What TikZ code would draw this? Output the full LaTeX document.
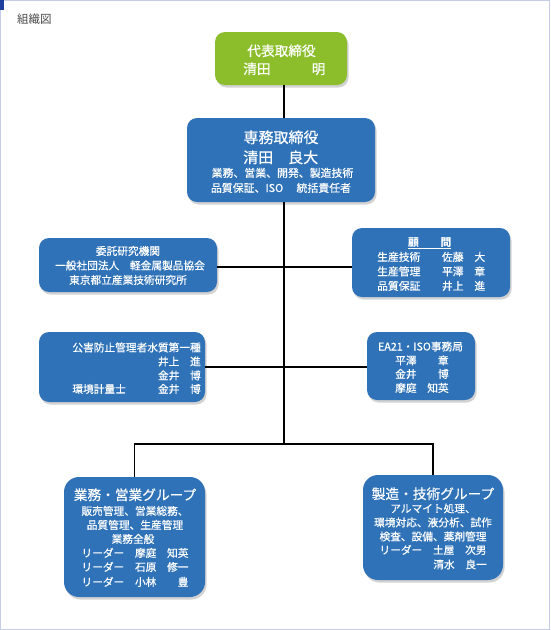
\documentclass[tikz,border=0pt]{standalone}
\usepackage{fontspec}
\newfontfamily\jp{Noto Sans CJK JP}[FakeBold=0.5]
\newfontfamily\jpt{Noto Sans CJK JP}
\usetikzlibrary{shadows}
\definecolor{boxblue}{RGB}{47,114,183}
\definecolor{boxgreen}{RGB}{139,190,42}
\definecolor{framec}{RGB}{196,204,232}
\definecolor{markc}{RGB}{31,63,158}
\definecolor{titlegray}{RGB}{74,74,74}
\tikzset{
  box/.style={draw=none, rounded corners=10pt, inner sep=0pt,
    drop shadow={shadow xshift=1.5pt, shadow yshift=-2.5pt, opacity=0.35}},
  bluebox/.style={box, fill=boxblue},
  greenbox/.style={box, fill=boxgreen},
  big/.style={box, fill=boxblue, rounded corners=15pt},
  ts/.style={font=\jp\fontsize{10.7}{12}\selectfont, text=white, inner sep=0pt},
  tm/.style={font=\jp\fontsize{13.7}{15}\selectfont, text=white, inner sep=0pt},
  tl/.style={font=\jp\fontsize{15}{17}\selectfont, text=white, inner sep=0pt},
  conn/.style={draw=black, line width=1.2pt},
}
\begin{document}
\begin{tikzpicture}[x=1pt,y=-1pt]
\useasboundingbox (0,0) rectangle (550,630);
\fill[white] (0,0) rectangle (550,630);
\draw[framec, line width=1pt] (0.5,0.5) rectangle (549.5,629.5);
\fill[markc] (0,0) rectangle (3.5,10);
\node[anchor=base west, inner sep=0pt, font=\jpt\fontsize{11.5}{13}\selectfont, text=titlegray] (title) at (17,23) {組織図};

% coordinates for connector routing
\coordinate (trunk) at (284,0);
\coordinate (h1) at (0,267);
\coordinate (h2) at (0,367);
\coordinate (j) at (284,444);

% boxes
\node[greenbox, minimum width=132, minimum height=53] (g) at (281,58.5) {};
\node[bluebox, minimum width=188, minimum height=84] (s) at (281,160) {};
\node[bluebox, minimum width=178, minimum height=54] (l1) at (128,265) {};
\node[bluebox, minimum width=158, minimum height=69] (r1) at (431,262.5) {};
\node[bluebox, minimum width=166, minimum height=70] (l2) at (122,367) {};
\node[bluebox, minimum width=108, minimum height=68] (r2) at (421,366) {};
\node[big, minimum width=141, minimum height=120] (b1) at (134.5,537) {};
\node[big, minimum width=140, minimum height=105] (b2) at (433,527.5) {};

% connectors
\draw[conn] (g.south -| trunk) -- (s.north -| trunk);
\draw[conn] (s.south -| trunk) -- (j);
\draw[conn] (l1.east |- h1) -- (r1.west |- h1);
\draw[conn] (l2.east |- h2) -- (r2.west |- h2);
\draw[conn] (b1.north) -- (b1.north |- j) -- (b2.north |- j) -- (b2.north);

% green box text
\node[tm, anchor=base] (g1) at (281.5,56) {代表取締役};
\node[tm, anchor=base west] (g2) at (243,74) {清田　　　明};

% senmu text
\node[tl, anchor=base] (s1) at (281,143) {専務取締役};
\node[tl, anchor=base west] (s2) at (243,163) {清田　良大};
\node[ts, anchor=base, font=\jp\fontsize{10.9}{12}\selectfont] (s3) at (282.5,177) {業務、営業、開発、製造技術};
\node[ts, anchor=base, font=\jp\fontsize{10.9}{12}\selectfont] (s4) at (281,192) {品質保証、ISO　 統括責任者};

% left box 1
\node[ts, anchor=base] (l1a) at (128,255) {委託研究機関};
\node[ts, anchor=base] (l1b) at (130,269.5) {一般社団法人　軽金属製品協会};
\node[ts, anchor=base] (l1c) at (128,284) {東京都立産業技術研究所};

% right box 1
\node[ts, anchor=base west, font=\jpt\bfseries\fontsize{10.8}{12}\selectfont] (r1a) at (408,246) {\underline{顧　　問}};
\node[ts, anchor=base west, font=\jp\fontsize{10.8}{12}\selectfont] (r1b) at (377,261) {生産技術　　佐藤　大};
\node[ts, anchor=base west, font=\jp\fontsize{10.8}{12}\selectfont] (r1c) at (377,275.5) {生産管理　　平澤　章};
\node[ts, anchor=base west, font=\jp\fontsize{10.8}{12}\selectfont] (r1d) at (377,290) {品質保証　　井上　進};

% left box 2
\node[ts, anchor=base east] (l2a) at (201,351.5) {公害防止管理者水質第一種};
\node[ts, anchor=base east] (l2b) at (201,365.5) {井上　進};
\node[ts, anchor=base east] (l2c) at (201,379.5) {金井　博};
\node[ts, anchor=base east] (l2d) at (201,393) {環境計量士　　　金井　博};

% right box 2
\node[ts, anchor=base] (r2a) at (420.5,350.5) {EA21・ISO事務局};
\node[ts, anchor=base west] (r2b) at (395,364.5) {平澤　　章};
\node[ts, anchor=base west] (r2c) at (395,378) {金井　　博};
\node[ts, anchor=base west] (r2d) at (395,392) {摩庭　知英};

% bottom left
\node[tm, anchor=base] (b1a) at (135,500) {業務・営業グループ};
\node[ts, anchor=base] (b1b) at (135,515) {販売管理、営業総務、};
\node[ts, anchor=base] (b1c) at (135,529) {品質管理、生産管理};
\node[ts, anchor=base] (b1d) at (133,543) {業務全般};
\node[ts, anchor=base] (b1e) at (135,557) {リーダー　摩庭　知英};
\node[ts, anchor=base] (b1f) at (135,571) {リーダー　石原　修一};
\node[ts, anchor=base] (b1g) at (135,586) {リーダー　小林　　豊};

% bottom right
\node[tm, anchor=base] (b2a) at (433,499) {製造・技術グループ};
\node[ts, anchor=base] (b2b) at (433,512.5) {アルマイト処理、};
\node[ts, anchor=base] (b2c) at (433,526.5) {環境対応、液分析、試作};
\node[ts, anchor=base] (b2d) at (433,540.5) {検査、設備、薬剤管理};
\node[ts, anchor=base] (b2e) at (433,554) {リーダー　土屋　次男};
\node[ts, anchor=base east] (b2f) at (487,568.5) {清水　良一};
\end{tikzpicture}
\end{document}
